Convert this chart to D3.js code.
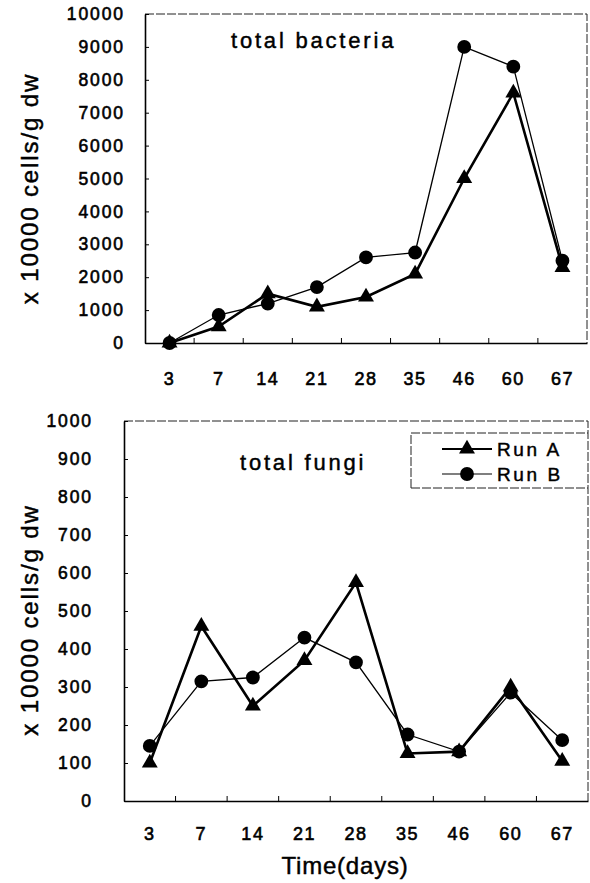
<!DOCTYPE html>
<html>
<head>
<meta charset="utf-8">
<script src="https://cdn.jsdelivr.net/npm/d3@7/dist/d3.min.js"></script>
<style>
  html, body { margin: 0; padding: 0; background: #fff; }
  svg { display: block; }
  text { font-family: "Liberation Sans", Arial, sans-serif; fill: #000; }
</style>
</head>
<body>
<svg id="chart" width="590" height="883"></svg>
<script>
// ---- data ----
const days = ["3", "7", "14", "21", "28", "35", "46", "60", "67"];
const bacteriaRunA = [0, 500, 1500, 1100, 1400, 2100, 5000, 7600, 2300];
const bacteriaRunB = [0, 850, 1200, 1700, 2600, 2750, 9000, 8400, 2500];
const fungiRunA = [100, 460, 250, 370, 575, 125, 130, 300, 105];
const fungiRunB = [145, 315, 325, 430, 365, 175, 130, 285, 160];
const bacteriaTicks = [0, 1000, 2000, 3000, 4000, 5000, 6000, 7000, 8000, 9000, 10000];
const fungiTicks = [0, 100, 200, 300, 400, 500, 600, 700, 800, 900, 1000];
const seriesNames = ["Run A", "Run B"];
const yTitle = "x 10000 cells/g dw";
const xTitle = "Time(days)";

const svg = d3.select("#chart");

function panel(cfg) {
  const g = svg.append("g");
  const x = d3.scaleBand().domain(days).range([cfg.x0, cfg.x1]).paddingInner(0).paddingOuter(0);
  const y = d3.scaleLinear().domain([0, cfg.max]).range([cfg.y1, cfg.y0]);

  // frame top & right (faint, dashed like the scan)
  g.append("path")
    .attr("d", `M${cfg.x0},${cfg.y0}H${cfg.x1}V${cfg.y1}`)
    .attr("fill", "none").attr("stroke", "#222").attr("stroke-width", 1)
    .attr("stroke-dasharray", "9,2");

  // y axis
  const ya = g.append("g").attr("transform", `translate(${cfg.x0},0)`)
    .call(d3.axisLeft(y).tickValues(cfg.ticks).tickSizeInner(-4).tickSizeOuter(0).tickPadding(cfg.pad)
      .tickFormat(d3.format("d")));
  ya.select(".domain").attr("stroke", "#000").attr("stroke-width", 1.6);
  ya.selectAll(".tick line").attr("stroke", "#000");
  ya.selectAll("text").style("font-size", "17.5px").style("letter-spacing", "1.9px")
    .attr("stroke", "#000").attr("stroke-width", 0.6).attr("fill", "#000").attr("font-family", null);

  // x axis
  const xa = g.append("g").attr("transform", `translate(0,${cfg.y1})`)
    .call(d3.axisBottom(x).tickSize(0).tickPadding(cfg.xpad));
  xa.select(".domain").attr("stroke", "#000").attr("stroke-width", 1.6);
  xa.selectAll("text").style("font-size", "18px").style("letter-spacing", "1.5px")
    .attr("stroke", "#000").attr("stroke-width", 0.6).attr("font-family", null);
  // boundary ticks (inward)
  g.append("g").selectAll("line").data(days.slice(1)).join("line")
    .attr("x1", d => x(d)).attr("x2", d => x(d))
    .attr("y1", cfg.y1).attr("y2", cfg.y1 - 5)
    .attr("stroke", "#000").attr("stroke-width", 1);

  // y title
  g.append("text")
    .attr("transform", `translate(${cfg.tx},${(cfg.y0 + cfg.y1) / 2 + cfg.tdy}) rotate(-90)`)
    .attr("text-anchor", "middle")
    .style("font-size", "24px").style("letter-spacing", "1.9px")
    .attr("stroke", "#000").attr("stroke-width", 0.45)
    .text(yTitle);

  // panel label
  g.append("text")
    .attr("x", cfg.lx).attr("y", cfg.ly)
    .style("font-size", "22px").style("letter-spacing", "2.8px")
    .attr("stroke", "#000").attr("stroke-width", 0.45)
    .text(cfg.label);

  const cx = d => x(d) + x.bandwidth() / 2;
  const series = [
    { vals: cfg.b, w: 1.3, sym: d3.symbolCircle, size: 150 },
    { vals: cfg.a, w: 2.6, sym: d3.symbolTriangle, size: 110 }
  ];
  series.forEach(s => {
    const line = d3.line().x((v, i) => cx(days[i])).y(v => y(v));
    g.append("path").datum(s.vals).attr("d", line)
      .attr("fill", "none").attr("stroke", "#000").attr("stroke-width", s.w)
      .attr("stroke-linejoin", "miter");
  });
  series.forEach(s => {
    g.append("g").selectAll("path").data(s.vals).join("path")
      .attr("transform", (v, i) => `translate(${cx(days[i])},${y(v)})`)
      .attr("d", d3.symbol(s.sym, s.size))
      .attr("fill", "#000");
  });
  return { g, x, y };
}

panel({ x0: 145, x1: 587, y0: 14, y1: 343, max: 10000, ticks: bacteriaTicks, pad: 20, xpad: 29,
  tx: 38, tdy: 10, lx: 231, ly: 48, label: "total bacteria", a: bacteriaRunA, b: bacteriaRunB });
panel({ x0: 124, x1: 588, y0: 421, y1: 801, max: 1000, ticks: fungiTicks, pad: 31, xpad: 26,
  tx: 38, tdy: 9, lx: 240, ly: 470, label: "total fungi", a: fungiRunA, b: fungiRunB });

// x title
svg.append("text")
  .attr("x", 345).attr("y", 874).attr("text-anchor", "middle")
  .style("font-size", "24px").style("letter-spacing", "0.8px")
  .attr("stroke", "#000").attr("stroke-width", 0.45)
  .text(xTitle);

// legend
const lg = svg.append("g");
lg.append("path").attr("d", "M411,488V433H588")
  .attr("fill", "none").attr("stroke", "#222").attr("stroke-width", 1).attr("stroke-dasharray", "9,2");
lg.append("line").attr("x1", 411).attr("x2", 588).attr("y1", 488).attr("y2", 488)
  .attr("stroke", "#222").attr("stroke-width", 1).attr("stroke-dasharray", "9,2");
const legendItems = [
  { name: seriesNames[0], w: 2.2, sym: d3.symbolTriangle, size: 110, y: 449 },
  { name: seriesNames[1], w: 1.2, sym: d3.symbolCircle, size: 150, y: 474 }
];
legendItems.forEach(it => {
  lg.append("line").attr("x1", 442).attr("x2", 492).attr("y1", it.y).attr("y2", it.y)
    .attr("stroke", "#000").attr("stroke-width", it.w);
  lg.append("path").attr("transform", `translate(467,${it.y})`)
    .attr("d", d3.symbol(it.sym, it.size)).attr("fill", "#000");
  lg.append("text").attr("x", 497).attr("y", it.y).attr("dy", "0.36em")
    .style("font-size", "19px").style("letter-spacing", "2.6px")
    .attr("stroke", "#000").attr("stroke-width", 0.45)
    .text(it.name);
});
</script>
</body>
</html>
